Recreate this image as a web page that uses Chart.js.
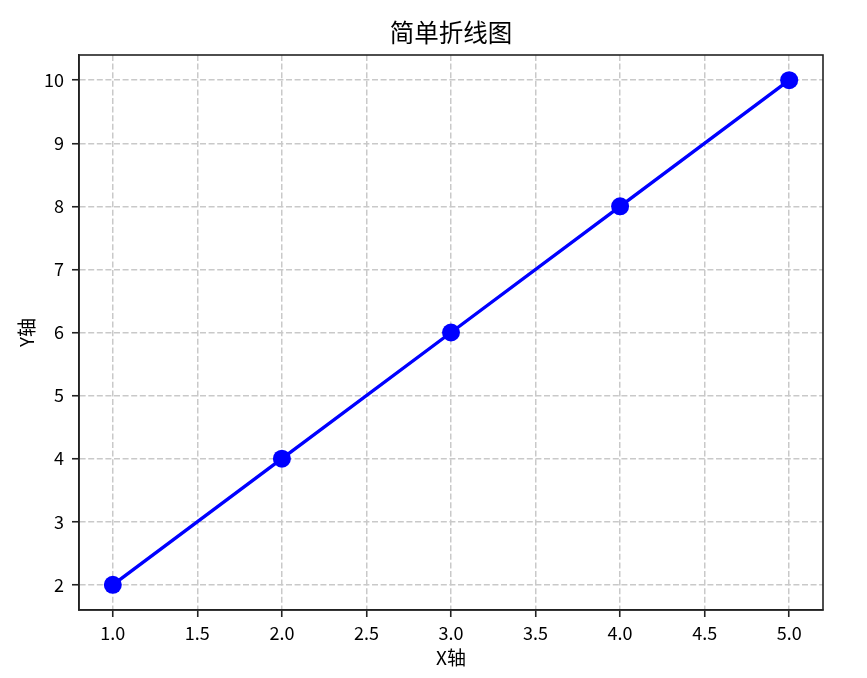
<!DOCTYPE html>
<html>
<head>
<meta charset="utf-8">
<script src="https://cdn.jsdelivr.net/npm/chart.js@4"></script>
<style>
  html, body { margin: 0; padding: 0; background: #fff; }
  #wrap { width: 867px; height: 678px; }
</style>
</head>
<body>
<div id="wrap"><canvas id="chart" width="867" height="678"></canvas></div>
<script>
"use strict";

// ── Data ───────────────────────────────────────────────────
const xValues = [1, 2, 3, 4, 5];
const yValues = [2, 4, 6, 8, 10];
const xTicks = [1.0, 1.5, 2.0, 2.5, 3.0, 3.5, 4.0, 4.5, 5.0];
const yTicks = [2, 3, 4, 5, 6, 7, 8, 9, 10];

const FONT = "'Noto Sans CJK SC', 'DejaVu Sans', sans-serif";

// Draw the full box around the plot area (matplotlib spines).
const frameBox = {
  id: "frameBox",
  afterDraw(chart) {
    const { ctx, chartArea: a } = chart;
    ctx.save();
    ctx.setLineDash([]);
    ctx.strokeStyle = "#222";
    ctx.lineWidth = 1.6;
    ctx.strokeRect(a.left, a.top, a.right - a.left, a.bottom - a.top);
    ctx.restore();
  },
};

const gridOpts = {
  color: "#c9c9c9",
  lineWidth: 1.5,
  drawTicks: true,
  tickLength: 7,
  tickColor: "#222",
  tickWidth: 1.6,
  tickBorderDash: [],
};
// In Chart.js v4 the grid line dash lives under `border.dash`.
const borderOpts = { display: true, color: "#222", width: 1.6, dash: [6, 2.6] };

new Chart(document.getElementById("chart").getContext("2d"), {
  type: "scatter",
  data: {
    datasets: [{
      data: xValues.map((x, i) => ({ x, y: yValues[i] })),
      showLine: true,
      borderColor: "#0000ff",
      backgroundColor: "#0000ff",
      borderWidth: 3.4,
      pointRadius: 9,
      pointHoverRadius: 9,
      pointBorderWidth: 0,
    }],
  },
  options: {
    responsive: false,
    animation: false,
    layout: { padding: { top: 0, right: 44, bottom: 0, left: 0 } },
    scales: {
      x: {
        type: "linear",
        min: 0.8, max: 5.2,
        afterBuildTicks: (s) => { s.ticks = xTicks.map((v) => ({ value: v })); },
        afterFit: (s) => { s.height = 68; },
        grid: gridOpts,
        border: borderOpts,
        ticks: {
          color: "#000", padding: 5,
          font: { family: FONT, size: 18 },
          callback: (v) => Number(v).toFixed(1),
        },
        title: {
          display: true, text: "X轴", color: "#000",
          font: { family: FONT, size: 19, lineHeight: 1.75 },
        },
      },
      y: {
        type: "linear",
        min: 1.6, max: 10.4,
        afterBuildTicks: (s) => { s.ticks = yTicks.map((v) => ({ value: v })); },
        afterFit: (s) => { s.width = 79; },
        grid: gridOpts,
        border: borderOpts,
        ticks: {
          color: "#000", padding: 8,
          font: { family: FONT, size: 18 },
          callback: (v) => String(v),
        },
        title: {
          display: true, text: "Y轴", color: "#000",
          font: { family: FONT, size: 19, lineHeight: 2.45 },
        },
      },
    },
    plugins: {
      legend: { display: false },
      tooltip: { enabled: false },
      title: {
        display: true, text: "简单折线图", color: "#000",
        fullSize: false,
        font: { family: FONT, size: 24.5, weight: "normal", lineHeight: 1.2 },
        padding: { top: 18, bottom: 7.6 },
      },
    },
  },
  plugins: [frameBox],
});
</script>
</body>
</html>
